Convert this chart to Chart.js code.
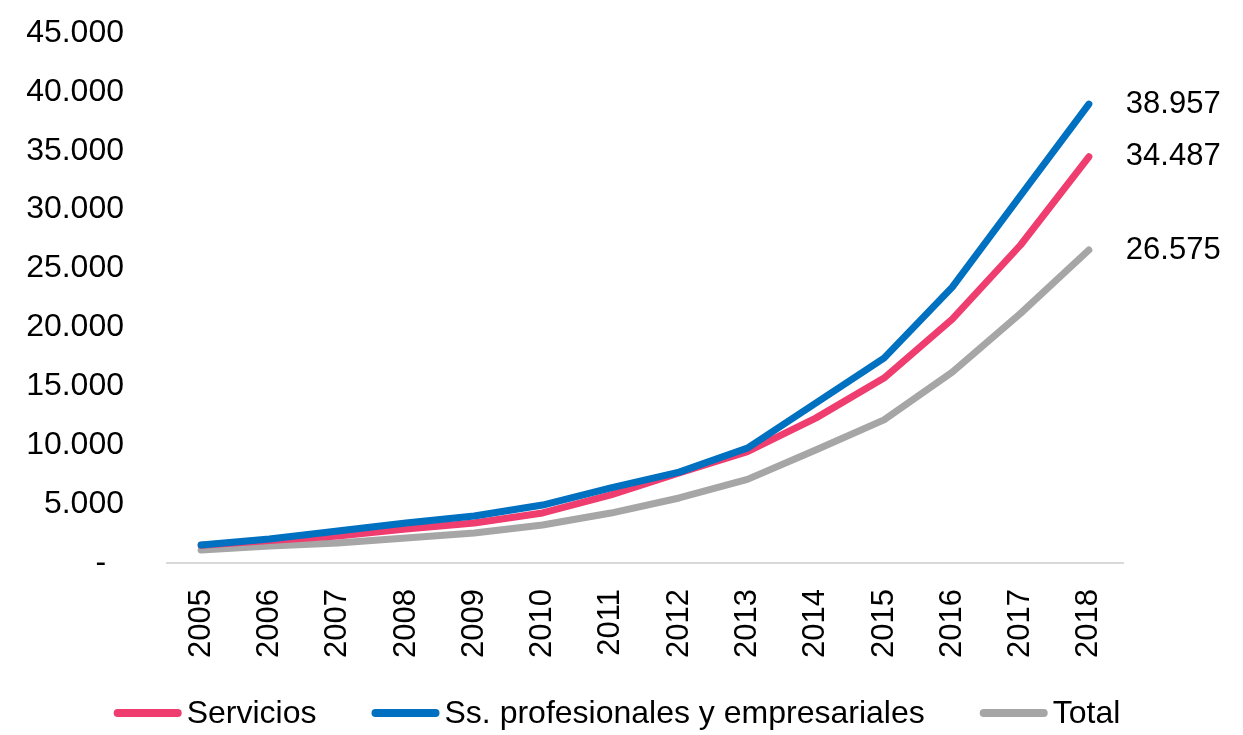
<!DOCTYPE html>
<html>
<head>
<meta charset="utf-8">
<script src="https://cdn.jsdelivr.net/npm/chart.js@4.4.1/dist/chart.umd.min.js"></script>
<style>
  html, body { margin:0; padding:0; background:#fff; }
  #wrap { width:1243px; height:735px; }
</style>
</head>
<body>
<div id="wrap"><canvas id="chart"></canvas></div>
<script>
const years = ['2005','2006','2007','2008','2009','2010','2011','2012','2013','2014','2015','2016','2017','2018'];
const servicios = [1500, 1900, 2300, 2880, 3400, 4250, 5780, 7640, 9450, 12300, 15700, 20700, 27000, 34487];
const ssProfesionales = [1530, 2040, 2710, 3400, 3990, 4920, 6370, 7720, 9760, 13580, 17400, 23420, 31200, 38957];
const total = [1100, 1440, 1700, 2120, 2550, 3230, 4240, 5520, 7100, 9590, 12150, 16200, 21200, 26575];
const yTicks = [0, 5000, 10000, 15000, 20000, 25000, 30000, 35000, 40000, 45000];

const FONT = "'Liberation Sans', Arial, sans-serif";
const fmt = v => v === 0 ? '-  ' : String(v).replace(/\B(?=(\d{3})+(?!\d))/g, '.');

Chart.defaults.font.family = FONT;
Chart.defaults.color = '#000';

// value labels at the end of each line
const endLabels = {
  id: 'endLabels',
  afterDatasetsDraw(chart) {
    const ctx = chart.ctx;
    ctx.save();
    ctx.font = '31px ' + FONT;
    ctx.fillStyle = '#000';
    ctx.textAlign = 'left';
    ctx.textBaseline = 'middle';
    chart.data.datasets.forEach((ds, i) => {
      const pts = chart.getDatasetMeta(i).data;
      const p = pts[pts.length - 1];
      ctx.fillText(fmt(ds.data[ds.data.length - 1]), p.x + 37, p.y);
    });
    ctx.restore();
  }
};

// Excel-style legend: short line swatch, small gap, wide spacing between items
const lineLegend = {
  id: 'lineLegend',
  afterDraw(chart) {
    const ctx = chart.ctx;
    const sw = 68, gap = 5, spacing = 55, y = 713;
    ctx.save();
    ctx.font = '32px ' + FONT;
    ctx.textBaseline = 'middle';
    ctx.textAlign = 'left';
    const items = chart.data.datasets.map(ds => ({ text: ds.label, color: ds.borderColor, w: sw + gap + ctx.measureText(ds.label).width }));
    const totalW = items.reduce((s, it) => s + it.w, 0) + spacing * (items.length - 1);
    let x = 617 - totalW / 2;
    items.forEach(it => {
      ctx.strokeStyle = it.color;
      ctx.lineWidth = 8;
      ctx.lineCap = 'round';
      ctx.beginPath();
      ctx.moveTo(x + 4, y);
      ctx.lineTo(x + sw - 4, y);
      ctx.stroke();
      ctx.fillStyle = '#000';
      ctx.fillText(it.text, x + sw + gap, y + 1);
      x += it.w + spacing;
    });
    ctx.restore();
  }
};

const line = (label, data, color, order) => ({
  label, data, order,
  borderColor: color, backgroundColor: color,
  borderWidth: 7, tension: 0, pointRadius: 0,
  borderCapStyle: 'round', borderJoinStyle: 'round'
});

new Chart(document.getElementById('chart'), {
  type: 'line',
  data: {
    labels: years,
    datasets: [
      line('Servicios', servicios, '#EF3D6F', 1),
      line('Ss. profesionales y empresariales', ssProfesionales, '#0070C0', 0),
      line('Total', total, '#A6A6A6', 2)
    ]
  },
  options: {
    responsive: true,
    maintainAspectRatio: false,
    animation: false,
    layout: { padding: { top: 33, right: 120, left: 0, bottom: 76 } },
    plugins: {
      tooltip: { enabled: false },
      legend: { display: false }
    },
    scales: {
      x: {
        offset: true,
        grid: { display: false, drawTicks: false },
        border: { display: true, color: '#D9D9D9', width: 2 },
        ticks: { font: { size: 31 }, minRotation: 90, maxRotation: 90, padding: 26 },
        afterFit(s) { s.height = 96; }
      },
      y: {
        min: 0, max: 45000,
        grid: { display: false, drawTicks: false },
        border: { display: false },
        afterBuildTicks(s) { s.ticks = yTicks.map(v => ({ value: v })); },
        ticks: { font: { size: 32 }, padding: 43, callback: v => fmt(v) },
        afterFit(s) { s.width = 167; s.paddingTop = 0; s.paddingBottom = 0; }
      }
    }
  },
  plugins: [endLabels, lineLegend]
});
</script>
</body>
</html>
